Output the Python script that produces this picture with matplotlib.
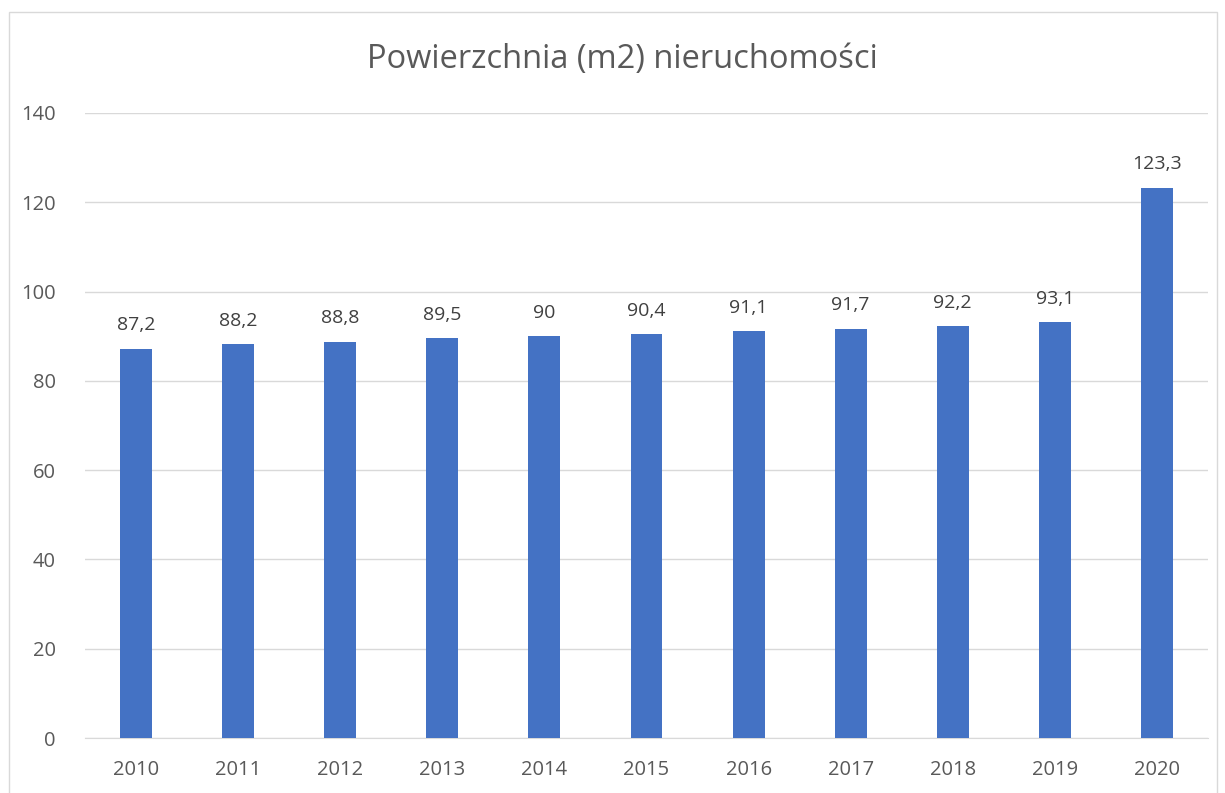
import matplotlib.pyplot as plt
from matplotlib.patches import Rectangle

years = ['2010', '2011', '2012', '2013', '2014', '2015', '2016', '2017', '2018', '2019', '2020']
area = [87.2, 88.2, 88.8, 89.5, 90.0, 90.4, 91.1, 91.7, 92.2, 93.1, 123.3]
labels = ['87,2', '88,2', '88,8', '89,5', '90', '90,4', '91,1', '91,7', '92,2', '93,1', '123,3']

plt.rcParams['font.family'] = ['Open Sans', 'DejaVu Sans']

fig = plt.figure(figsize=(12.25, 7.93), dpi=100)
ax = fig.add_axes([85 / 1225, 55 / 793, 1123 / 1225, 625 / 793])

x = range(len(years))
ax.bar(x, area, width=0.313, color='#4472C4', zorder=3)
for i, v in enumerate(area):
    ax.text(i, v + 3.2, labels[i], ha='center', va='bottom', fontsize=14, color='#404040')

ax.set_xlim(-0.5, len(years) - 0.5)
ax.set_ylim(0, 140)
ax.set_yticks(range(0, 141, 20))
ax.set_xticks(list(x))
ax.set_xticklabels(years)
ax.grid(axis='y', color='#D9D9D9', linewidth=1, zorder=0)
for s in ['top', 'right', 'left']:
    ax.spines[s].set_visible(False)
ax.spines['bottom'].set_color('#D9D9D9')
ax.tick_params(length=0, labelsize=14.5, labelcolor='#595959')
ax.tick_params(axis='x', pad=16)
ax.tick_params(axis='y', pad=21)

fig.text(0.508, 0.925, 'Powierzchnia (m2) nieruchomości', ha='center', va='center',
         fontsize=23.5, color='#595959')

fig.patches.append(Rectangle((9 / 1225, -0.01), 1208 / 1225, (793 - 12) / 793 + 0.01,
                             transform=fig.transFigure, fill=False,
                             edgecolor='#D9D9D9', linewidth=1))

fig.savefig('out.png', dpi=100)
